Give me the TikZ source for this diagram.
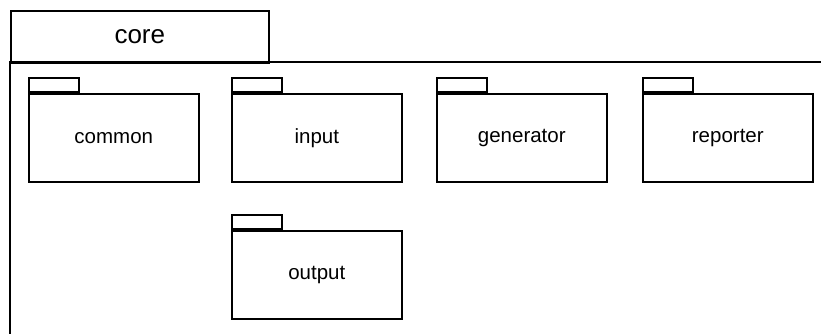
\documentclass[tikz,border=0pt]{standalone}
\usepackage{fontspec}
\setmainfont{Liberation Sans}
\begin{document}
\begin{tikzpicture}[x=1pt,y=-1pt,line width=1.6pt,
  pkgbody/.style={draw,rectangle,minimum width=170pt,minimum height=88pt,
    inner sep=0pt,anchor=north west,font=\fontsize{20.5}{24}\selectfont},
  pkgtab/.style={draw,rectangle,minimum width=50pt,minimum height=14.5pt,
    inner sep=0pt,anchor=south west}]
\useasboundingbox (0,0) rectangle (821,333);
\clip (0,0) rectangle (821,333);

% outer package "core": name tab and an open-ended body
\node[draw,rectangle,minimum width=258pt,minimum height=52pt,inner sep=0pt,
  anchor=north west,font=\fontsize{26}{30}\selectfont] (coretab) at (10,10) {core};
\coordinate (corebl) at (10,345);
\coordinate (coretr) at (835,62);
\draw (corebl) |- (coretr);

% nested packages
\node[pkgbody] (common) at (28,93) {common};
\node[pkgtab] (commontab) at (common.north west) {};
\node[pkgbody] (input) at (231,93) {input};
\node[pkgtab] (inputtab) at (input.north west) {};
\node[pkgbody] (generator) at (436,93) {generator};
\node[pkgtab] (generatortab) at (generator.north west) {};
\node[pkgbody] (reporter) at (642,93) {reporter};
\node[pkgtab] (reportertab) at (reporter.north west) {};
\node[pkgbody] (output) at (231,230) {output};
\node[pkgtab] (outputtab) at (output.north west) {};
\end{tikzpicture}
\end{document}
